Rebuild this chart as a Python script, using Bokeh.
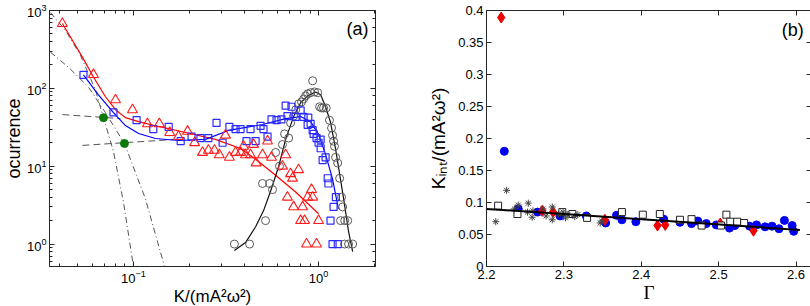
from bokeh.plotting import figure
from bokeh.layouts import row
from bokeh.models import (LogAxis, LinearAxis, FixedTicker, LogTicker, Label,
                          NumeralTickFormatter, Range1d, CustomJSTickFormatter)
from bokeh.embed import file_html
from bokeh.resources import INLINE

# ---------------- Panel (a) data ----------------
tri_k = [0.0413, 0.0608, 0.080, 0.0988, 0.119, 0.138, 0.157, 0.175, 0.196, 0.214,
         0.236, 0.254, 0.274, 0.291, 0.314, 0.330, 0.356, 0.379, 0.393, 0.403,
         0.429, 0.445, 0.460, 0.498, 0.530, 0.557, 0.638, 0.664, 0.706, 0.723,
         0.780, 0.679, 0.733, 0.820, 0.800, 0.840, 0.873, 0.916, 0.929, 1.000,
         0.861, 0.975]
tri_n = [680, 150, 71, 53, 35, 35, 27, 24, 28, 20,
         15, 16, 16, 14, 25, 13, 15, 15, 18, 14,
         14, 19, 11, 14, 21, 13, 10, 14, 8, 7,
         9, 4, 3, 3, 2, 2, 4, 5, 4, 2,
         1, 1]

sq_k = [0.0537, 0.078, 0.104, 0.128, 0.155, 0.180, 0.206, 0.230, 0.254, 0.281,
        0.303, 0.330, 0.356, 0.379, 0.408, 0.429, 0.457, 0.486, 0.504, 0.530,
        0.557, 0.593, 0.630, 0.664, 0.714, 0.679, 0.752, 0.800, 0.830, 0.880,
        0.873, 0.906, 0.929, 0.940, 0.975, 1.026, 1.000, 1.026, 1.091, 1.052,
        1.120, 1.130, 1.240, 1.205, 1.160, 1.190, 1.270]
sq_n = [149, 49, 39, 30, 32, 21, 24, 23, 23, 36,
        20, 32, 30, 30, 21, 30, 21, 33, 30, 24,
        40, 39, 40, 60, 58, 44, 43, 52, 43, 42,
        34, 35, 29, 26, 23, 22, 20, 17, 13, 12,
        7, 6, 4, 3, 2, 1, 1]

ci_k = [0.351, 0.424, 0.517, 0.498, 0.544, 0.564, 0.615, 0.586, 0.638, 0.655,
        0.689, 0.706, 0.733, 0.752, 0.780, 0.809, 0.830, 0.851, 0.873, 0.906,
        0.929, 0.951, 0.989, 1.013, 1.038, 1.064, 1.100, 1.145, 1.175, 1.190,
        1.205, 1.219, 1.236, 1.268, 1.300, 1.330, 1.349, 1.315, 1.384, 1.436,
        1.384, 1.452, 1.528]
ci_n = [1, 1, 2, 6, 6, 5, 10, 15, 19, 26,
        23, 36, 44, 53, 63, 67, 73, 80, 85, 88,
        125, 90, 88, 58, 56, 56, 56, 39, 31, 25,
        21, 18, 13, 11, 7, 4, 3, 2, 2, 2,
        1, 1, 1]

rfit_k = [0.0413, 0.0468, 0.0530, 0.0608, 0.0706, 0.0800, 0.0905, 0.1066, 0.1365,
          0.191, 0.277, 0.379, 0.457, 0.586, 0.752, 1.0]
rfit_n = [682, 415, 252, 140, 78, 53.2, 42.1, 37.4, 32.4,
          27.1, 22.1, 16.9, 12.3, 7.67, 4.67, 2.45]

bfit_k = [0.0537, 0.0647, 0.078, 0.0905, 0.1066, 0.1315, 0.175, 0.245, 0.326,
          0.498, 0.664, 0.80, 0.906, 1.0, 1.091, 1.19, 1.28]
bfit_n = [149, 82.6, 48.8, 33.3, 26.3, 22.7, 21.4, 22.1, 28.8,
          34.3, 40.9, 43.4, 37.4, 25.6, 14.2, 6.83, 2.83]

gfit_k = [0.351, 0.403, 0.457, 0.504, 0.551, 0.607, 0.664, 0.733, 0.80, 0.873,
          0.963, 1.026, 1.091, 1.161, 1.236, 1.300, 1.366, 1.452, 1.528]
gfit_n = [0.826, 1.045, 1.67, 2.67, 4.81, 9.7, 22.1, 43.4, 65.4, 80,
          90, 82.6, 58, 36.4, 16.6, 7.9, 3.8, 1.44, 0.80]

green_k = [0.0689, 0.0894]
green_n = [42, 19.6]

dash1_k = [0.0413, 0.0851]
dash1_n = [46, 40.9]
dash2_k = [0.053, 0.1687]
dash2_n = [18.5, 22.1]

dda_k = [0.0356, 0.0429, 0.0517, 0.0623, 0.0689, 0.078, 0.0883, 0.1]
dda_n = [943, 556, 267, 95.8, 42, 15.5, 3.47, 0.517]
ddb_k = [0.0356, 0.0451, 0.0571, 0.0706, 0.0894, 0.1161, 0.1471]
ddb_n = [292, 182, 104, 48.8, 19.6, 3.80, 0.517]

xa_ticks = [0.1, 1]
xa_minor = [0.04, 0.05, 0.06, 0.07, 0.08, 0.09, 0.2, 0.3, 0.4, 0.5, 0.6, 0.7, 0.8, 0.9, 2]

# ---------------- Panel (b) data ----------------
rd_g = [2.219, 2.272, 2.286, 2.353, 2.421, 2.431, 2.502, 2.545]
rd_k = [0.389, 0.087, 0.085, 0.073, 0.064, 0.065, 0.067, 0.056]

bd_g = [2.223, 2.241, 2.266, 2.295, 2.329, 2.354, 2.368, 2.375, 2.393, 2.429,
        2.450, 2.465, 2.473, 2.484, 2.497, 2.514, 2.521, 2.540, 2.549, 2.560,
        2.569, 2.578, 2.585, 2.595, 2.597]
bd_k = [0.180, 0.090, 0.085, 0.079, 0.079, 0.068, 0.080, 0.073, 0.070, 0.074,
        0.069, 0.067, 0.071, 0.067, 0.065, 0.060, 0.064, 0.063, 0.065, 0.062,
        0.063, 0.059, 0.072, 0.064, 0.055]

os_g = [2.215, 2.240, 2.298, 2.311, 2.330, 2.375, 2.402, 2.424, 2.450, 2.465,
        2.478, 2.503, 2.510, 2.515, 2.524, 2.533]
os_k = [0.095, 0.082, 0.085, 0.082, 0.076, 0.085, 0.081, 0.082, 0.073, 0.074,
        0.064, 0.064, 0.081, 0.070, 0.070, 0.068]

st_g = [2.212, 2.226, 2.236, 2.241, 2.253, 2.254, 2.259, 2.260, 2.273, 2.277,
        2.285, 2.285, 2.293, 2.299, 2.302, 2.305, 2.314, 2.318, 2.347, 2.349]
st_k = [0.070, 0.119, 0.090, 0.096, 0.085, 0.099, 0.077, 0.087, 0.090, 0.079,
        0.093, 0.073, 0.082, 0.085, 0.076, 0.081, 0.078, 0.081, 0.068, 0.071]

fit_g = [2.2, 2.605]
fit_k = [0.090, 0.057]

xb_ticks = [2.2, 2.3, 2.4, 2.5, 2.6]
yb_ticks = [0, 0.05, 0.1, 0.15, 0.2, 0.25, 0.3, 0.35, 0.4]

# ---------------- styling ----------------
FONT = "Liberation Sans"
AX = "#262626"


def style_axis(ax, show_labels=True):
    ax.axis_line_color = AX
    ax.major_tick_line_color = AX
    ax.minor_tick_line_color = AX
    ax.major_tick_in = 5
    ax.major_tick_out = 0
    ax.minor_tick_in = 3
    ax.minor_tick_out = 0
    ax.major_label_text_font = FONT
    ax.major_label_text_font_size = "13px"
    ax.major_label_text_color = "black"
    ax.major_label_standoff = 3
    ax.axis_label_text_font = FONT
    ax.axis_label_text_font_size = "17px"
    ax.axis_label_text_font_style = "normal"
    ax.axis_label_text_color = "black"
    ax.axis_label_standoff = 1
    if not show_labels:
        ax.formatter = CustomJSTickFormatter(code="return ''")
        ax.major_label_standoff = 0


# ---------------- Panel (a) ----------------
pa = figure(x_axis_type="log", y_axis_type="log",
            x_range=Range1d(0.0352, 2.03), y_range=Range1d(0.515, 1000),
            frame_width=326, frame_height=256,
            min_border_left=44, min_border_right=20, min_border_top=10, min_border_bottom=38,
            output_backend="svg", toolbar_location=None)
pa.grid.visible = False
pa.outline_line_color = AX
pa.background_fill_color = "white"

pa.xaxis.ticker = FixedTicker(ticks=xa_ticks, minor_ticks=xa_minor)
pa.xaxis.axis_label = "K/(mA²ω²)"
pa.yaxis.axis_label = "ocurrence"
for ax in pa.xaxis + pa.yaxis:
    style_axis(ax)
pa.yaxis.axis_label_standoff = 0
pa.yaxis.axis_label_text_font_size = "18px"

ta = LogAxis(ticker=FixedTicker(ticks=xa_ticks, minor_ticks=xa_minor))
style_axis(ta, False)
pa.add_layout(ta, "above")
ra = LogAxis(ticker=LogTicker())
style_axis(ra, False)
pa.add_layout(ra, "right")

GRAY = "#555555"
pa.line(dda_k, dda_n, line_color=GRAY, line_dash="6 3 1 3", line_width=1)
pa.line(ddb_k, ddb_n, line_color=GRAY, line_dash="6 3 1 3", line_width=1)
pa.line(dash1_k, dash1_n, line_color=GRAY, line_dash="7 4", line_width=1)
pa.line(dash2_k, dash2_n, line_color=GRAY, line_dash="7 4", line_width=1)

pa.line(rfit_k, rfit_n, line_color="#ff0000", line_width=1.2)
pa.line(bfit_k, bfit_n, line_color="#0000ff", line_width=1.2)
pa.line(gfit_k, gfit_n, line_color="#111111", line_width=1.2)

pa.scatter(ci_k, ci_n, marker="circle", size=8, fill_color=None,
           line_color="#5a5a5a", line_width=1)
pa.scatter(sq_k, sq_n, marker="square", size=7, fill_color=None,
           line_color="#2a2aff", line_width=1.2)
pa.scatter(tri_k, tri_n, marker="triangle", size=10, fill_color=None,
           line_color="#ff1a1a", line_width=1.1)
pa.scatter(green_k, green_n, marker="circle", size=8, fill_color="#0b7a0b",
           line_color="#0b7a0b")

pa.add_layout(Label(x=1.86, y=768, text="(a)", text_align="right", text_baseline="top",
                    text_font=FONT, text_font_size="18px", text_color="black"))

# ---------------- Panel (b) ----------------
pb = figure(x_range=Range1d(2.2, 2.62), y_range=Range1d(0, 0.4),
            frame_width=325, frame_height=256,
            min_border_left=91, min_border_right=3, min_border_top=10, min_border_bottom=38,
            output_backend="svg", toolbar_location=None)
pb.grid.visible = False
pb.outline_line_color = AX

pb.xaxis.ticker = FixedTicker(ticks=xb_ticks)
pb.yaxis.ticker = FixedTicker(ticks=yb_ticks)
pb.xaxis.formatter = NumeralTickFormatter(format="0.0")
pb.yaxis.formatter = NumeralTickFormatter(format="0.[00]")
pb.xaxis.axis_label = "Γ"
pb.yaxis.axis_label = "Kᵢₙₜ/(mA²ω²)"
for ax in pb.xaxis + pb.yaxis:
    style_axis(ax)
    ax.minor_tick_in = 0
pb.xaxis.axis_label_text_font = "Liberation Serif"
pb.xaxis.axis_label_text_font_size = "19px"
pb.xaxis.axis_label_standoff = 0
pb.yaxis.axis_label_standoff = 6
pb.yaxis.axis_label_text_font_size = "19px"

tb = LinearAxis(ticker=FixedTicker(ticks=xb_ticks))
style_axis(tb, False)
tb.minor_tick_in = 0
pb.add_layout(tb, "above")
rb = LinearAxis(ticker=FixedTicker(ticks=yb_ticks))
style_axis(rb, False)
rb.minor_tick_in = 0
pb.add_layout(rb, "right")

pb.scatter(bd_g, bd_k, marker="circle", size=8, fill_color="#0000f0", line_color="#0000f0")
pb.scatter(rd_g, rd_k, marker="diamond", size=11, fill_color="#ee0000", line_color="#ee0000")
pb.scatter(os_g, os_k, marker="square", size=7, fill_color="white", line_color="#222222",
           line_width=1)
pb.scatter(st_g, st_k, marker="asterisk", size=7, line_color="#444444", line_width=1)
pb.line(fit_g, fit_k, line_color="black", line_width=2)

pb.add_layout(Label(x=2.610, y=0.385, text="(b)", text_align="right", text_baseline="top",
                    text_font=FONT, text_font_size="18px", text_color="black"))

p = row(pa, pb)
open("out.html", "w").write(file_html(p, INLINE))
